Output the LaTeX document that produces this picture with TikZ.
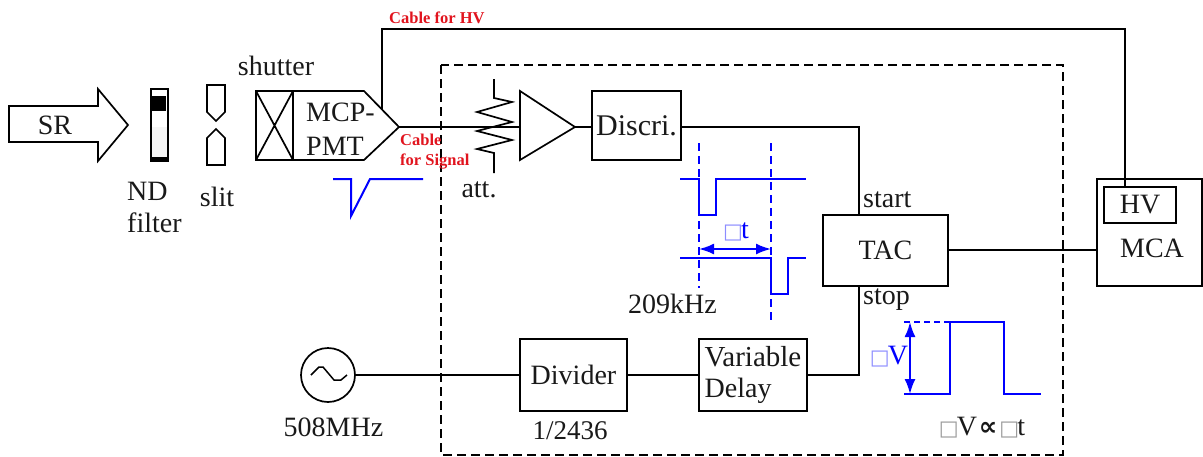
\documentclass[tikz,border=0pt]{standalone}
\usepackage{fontspec}
\setmainfont{Liberation Serif}
\newfontfamily\symb{DejaVu Sans}
\usetikzlibrary{arrows.meta}
\definecolor{bl}{RGB}{0,0,255}
\definecolor{rd}{RGB}{225,20,30}
\newcommand{\tofu}[1]{{\symb\fontsize{21}{21}\selectfont\textcolor{#1}{□}}\hspace{-2pt}}
\tikzset{
  x=1pt,y=-1pt,
  lab/.style={inner sep=0pt,font=\fontsize{28}{33}\selectfont,text=black!90},
  llab/.style={lab,anchor=west,align=left},
  red lab/.style={inner sep=0pt,anchor=west,align=left,text=rd,font=\fontsize{16.5}{20}\selectfont\bfseries},
  blue lab/.style={lab,text=bl},
  wire/.style={draw=black,line width=1.9pt},
  box/.style={draw=black,line width=1.9pt,inner sep=0pt,fill=white,font=\fontsize{28}{31}\selectfont,text=black!90,align=left},
  thin outline/.style={draw=black,line width=1.7pt,line join=miter},
  pulse/.style={draw=bl,line width=2pt},
  guide/.style={draw=bl,line width=2pt,dash pattern=on 8pt off 5pt},
  dim/.style={draw=bl,line width=2pt,{Latex[length=15pt,width=11pt]}-{Latex[length=15pt,width=11pt]}},
  frame/.style={draw=black,line width=1.8pt,dash pattern=on 9pt off 5pt},
}
\begin{document}
\begin{tikzpicture}
\useasboundingbox (0,0) rectangle (1203,456);
% dashed enclosure
\draw[frame] (441,65) rectangle (1063,455);

% beam line elements
\draw[thin outline] (9,106) -- (98,106) -- (98,89) -- (128,125) -- (98,161) -- (98,142) -- (9,142) -- cycle;
\node[lab] (sr) at (55,125) {SR};
\fill[black!4] (152,127) rectangle (167,157);
\fill[black] (152,96) rectangle (166,111);
\fill[black] (152,157) rectangle (167,161);
\draw[thin outline] (151,89) rectangle (168,161);
\node[llab] (nd) at (127,191) {ND};
\node[llab] (filter) at (127,223) {filter};
\draw[thin outline] (207,85) -- (225,85) -- (225,112) -- (216,121) -- (207,112) -- cycle;
\draw[thin outline] (216,129) -- (225,138) -- (225,165) -- (207,165) -- (207,138) -- cycle;
\node[lab] (slit) at (217,197) {slit};
\node[lab] (shutterlabel) at (276,66) {shutter};

\draw[thin outline] (256,91) rectangle (293,160);
\draw[thin outline] (256,91) -- (293,160) (256,160) -- (293,91);
\coordinate (tip) at (399,127);
\coordinate (hvout) at (382,110);
\draw[thin outline] (293,91) -- (364,91) -- (tip) -- (364,160) -- (293,160);
\node[llab] (mcp) at (306,112) {MCP-};
\node[llab] (pmt) at (306,146) {PMT};

% electronics
\coordinate (ampin) at (520,127);
\coordinate (ampout) at (575,127);
\node[box,minimum width=89pt,minimum height=69pt] (discri) at (636.5,125.5) {\fontsize{30}{33}\selectfont Discri.};
\node[box,minimum width=125pt,minimum height=71pt] (tac) at (885.5,250.5) {TAC};
\node[box,minimum width=108pt,minimum height=72pt] (delay) at (753,375) {\fontsize{29}{31}\selectfont Variable\\Delay};
\node[box,minimum width=107pt,minimum height=72pt] (divider) at (573.5,375) {Divider};
\node[box,minimum width=105pt,minimum height=107pt] (mca) at (1149.5,232.5) {};
\node[box,minimum width=72pt,minimum height=36pt] (hv) at (1140,205) {HV};
\node[lab] (mcalabel) at (1152,248) {MCA};
\node[draw=black,line width=1.7pt,circle,minimum size=54pt,inner sep=0pt] (osc) at (328,375) {};

\draw[wire] (tip) -- (ampin);
\draw[thin outline,fill=white] (ampin) -- (520,91) -- (ampout) -- (520,160) -- cycle;
\draw[wire] (ampout) -- (discri.west |- ampout);
\draw[thin outline] (494,79) -- (494,98) -- (512,102) -- (477,112) -- (512,122) -- (477,131) -- (512,140) -- (477,149) -- (494,153) -- (494,173);
\node[lab] (att) at (479,190) {att.};
\coordinate (corner1) at (859,127);
\coordinate (corner2) at (859,375);
\coordinate (hv1) at (382,29);
\draw[wire] (discri.east |- corner1) -- (corner1) -- (corner1 |- tac.north);
\draw[wire] (delay.east) -- (corner2) -- (corner2 |- tac.south);
\draw[wire] (tac.east |- 0,250) -- (mca.west |- 0,250);
\draw[wire] (osc.east) -- (divider.west);
\draw[wire] (divider.east) -- (delay.west);
\draw[wire] (hvout) -- (hv1) -- (1125,29) -- (1125,187);
\draw[line width=1.5pt,line join=round] (311,375) -- (319,367) -- (323,367) -- (334,380) -- (341,380) -- (347,375);

\node[llab] (start) at (863,200) {start};
\node[llab] (stop) at (863,300) {stop};
\node[lab] (ratio) at (570,431) {\fontsize{27}{30}\selectfont 1/2436};
\node[lab] (freq) at (333.5,427) {508MHz};

% cable labels
\node[red lab] (cablehv) at (389,18) {Cable for HV};
\node[red lab] (cablesig) at (400,152) {Cable\\for Signal};

% timing sketches
\draw[pulse] (333,179) -- (351,179) -- (351,216) -- (370,179) -- (423,179);
\coordinate (g1t) at (699,143);
\coordinate (g1b) at (699,323);
\coordinate (g2t) at (771,143);
\coordinate (g2b) at (771,323);
\draw[guide] (g1t) -- (g1b);
\draw[guide] (g2t) -- (g2b);
\draw[pulse] (680,179) -- (699,179) -- (699,215) -- (716,215) -- (716,179) -- (806,179);
\draw[pulse] (680,258) -- (771,258) -- (771,294) -- (788,294) -- (788,258) -- (806,258);
\draw[dim] (g1t |- 0,249) -- (g2t |- 0,249);
\node[blue lab] (dt) at (736,232) {\tofu{bl!45}t};
\node[lab,fill=white,inner ysep=3pt,minimum height=33pt] (khz) at (672.5,304) {209kHz};
\draw[pulse] (904,394) -- (950,394) -- (950,322) -- (1004,322) -- (1004,394) -- (1041,394);
\draw[draw=bl,line width=2pt,dash pattern=on 6pt off 4pt] (904,322) -- (950,322);
\draw[dim] (910,322) -- (910,394);
\node[blue lab] (dv) at (889,357) {\tofu{bl!45}V};
\node[lab] (prop) at (982,428) {\tofu{black!40}V\hspace{2pt}{\symb\bfseries\fontsize{26}{26}\selectfont ∝}\hspace{2pt}\tofu{black!40}t};
\end{tikzpicture}
\end{document}
